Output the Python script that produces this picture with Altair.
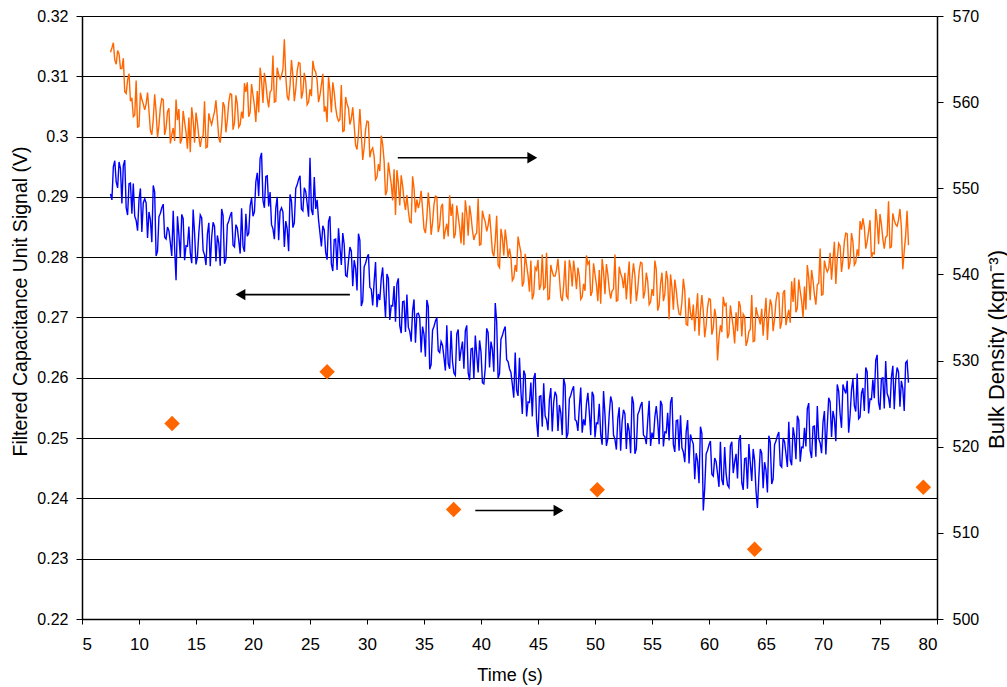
import altair as alt
import pandas as pd

# ---- data ----
# Samples every 0.25 s from 7.5 s, plus in-between samples every 0.25 s from 7.625 s
T_START = 7.5
T_MID_START = 7.625
T_STEP = 0.25

# Orange trace, bulk density (kg/m3), right axis
orange_density = [
    565.8, 566.9, 564.4, 565.6,
    563.9, 561.2, 562.6, 560.1,
    558.3, 562.5, 557.2, 560.3,
    559.1, 561.1, 556.7, 558.0,
    558.9, 557.3, 560.4, 556.2,
    558.9, 555.2, 557.0, 560.3,
    559.2, 555.7, 557.7, 554.6,
    554.2, 557.9, 558.8, 555.9,
    555.9, 560.1, 554.8, 557.9,
    558.2, 560.2, 555.8, 557.1,
    559.5, 557.9, 561.0, 556.8,
    560.8, 557.1, 558.9, 562.2,
    562.3, 558.8, 560.8, 557.7,
    558.8, 562.5, 563.4, 560.5,
    561.2, 565.4, 560.1, 563.2,
    563.1, 567.3, 560.7, 562.0,
    563.1, 561.5, 564.6, 560.4,
    563.4, 559.7, 561.5, 564.8,
    563.5, 560.0, 562.0, 558.9,
    557.7, 561.4, 562.3, 559.4,
    557.8, 562.0, 556.7, 559.8,
    557.4, 559.4, 555.0, 556.3,
    556.3, 554.7, 557.8, 553.6,
    554.7, 551.0, 552.8, 556.1,
    553.2, 549.7, 551.7, 548.6,
    546.9, 550.6, 551.5, 548.6,
    549.2, 546.1, 551.4, 547.2,
    547.7, 549.7, 545.3, 546.6,
    547.6, 546.0, 549.1, 544.9,
    547.8, 544.1, 545.9, 549.2,
    548.2, 544.7, 546.7, 543.6,
    543.4, 547.1, 548.0, 545.1,
    544.6, 548.8, 543.5, 546.6,
    545.0, 547.0, 542.6, 543.9,
    541.1, 545.3, 542.2, 543.8,
    543.0, 539.3, 541.1, 544.4,
    542.6, 539.1, 541.1, 538.0,
    537.1, 540.8, 541.7, 538.8,
    538.3, 542.5, 537.2, 540.3,
    539.8, 541.8, 537.4, 538.7,
    537.5, 541.7, 538.6, 540.2,
    540.8, 537.1, 538.9, 542.2,
    541.5, 538.0, 540.0, 536.9,
    536.6, 540.3, 541.2, 538.3,
    538.1, 542.3, 537.0, 540.1,
    538.4, 537.1, 541.5, 539.5,
    539.9, 538.3, 541.4, 537.2,
    540.2, 536.5, 538.3, 541.6,
    535.8, 538.9, 536.9, 540.4,
    534.8, 538.5, 539.4, 536.5,
    535.3, 539.5, 534.2, 537.3,
    534.7, 533.4, 537.8, 535.8,
    535.7, 534.1, 537.2, 533.0,
    536.0, 530.0, 534.1, 537.4,
    536.6, 533.1, 535.1, 532.0,
    533.4, 536.3, 535.4, 531.7,
    533.4, 537.6, 532.3, 535.4,
    534.2, 532.9, 537.3, 535.3,
    536.4, 534.8, 537.9, 533.7,
    537.8, 534.1, 535.9, 539.2,
    539.6, 536.1, 538.1, 535.0,
    535.9, 539.6, 540.5, 537.6,
    538.8, 543.0, 537.7, 540.8,
    540.7, 539.4, 543.8, 541.8,
    543.3, 541.7, 544.8, 540.6,
    544.8, 541.1, 542.9, 546.2,
    546.5, 543.0, 545.0, 541.9,
    542.4, 546.1, 547.0, 544.1,
    544.3, 548.5, 543.2, 546.3,
    545.6, 547.6, 540.6, 544.5,
    543.4,
]
orange_density_mid = [
    566.3, 564.9, 566.0, 563.9,
    565.1, 561.0, 563.3, 560.5,
    558.5, 557.1, 561.1, 559.8,
    559.8, 559.0, 556.2, 560.9,
    555.9, 559.4, 560.3, 557.0,
    559.3, 556.2, 555.5, 557.9,
    555.2, 559.0, 556.5, 558.2,
    559.4, 555.3, 557.6, 554.8,
    556.1, 554.7, 558.7, 557.4,
    558.9, 558.1, 555.3, 560.0,
    556.5, 560.0, 560.9, 557.6,
    559.8, 557.4, 558.1, 561.2,
    558.3, 562.1, 559.6, 561.3,
    564.0, 559.9, 562.2, 559.4,
    561.4, 560.0, 564.0, 562.7,
    563.8, 563.0, 560.2, 564.9,
    560.1, 563.6, 564.5, 561.2,
    562.4, 560.0, 560.7, 563.8,
    562.5, 560.8, 563.3, 559.5,
    562.9, 558.8, 561.1, 558.3,
    558.0, 556.6, 560.6, 559.3,
    558.1, 557.3, 554.5, 559.2,
    553.3, 556.8, 557.7, 554.4,
    553.7, 551.3, 552.0, 555.1,
    549.2, 553.0, 550.5, 552.2,
    552.1, 548.0, 550.3, 547.5,
    547.4, 546.0, 550.0, 548.7,
    548.4, 547.6, 544.8, 549.5,
    544.6, 548.1, 549.0, 545.7,
    548.2, 545.1, 544.4, 546.8,
    544.2, 548.0, 545.5, 547.2,
    548.6, 544.5, 546.8, 544.0,
    544.8, 543.4, 547.4, 546.1,
    545.7, 544.9, 542.1, 546.8,
    540.8, 544.3, 545.2, 541.9,
    542.0, 539.6, 540.3, 543.4,
    538.6, 542.4, 539.9, 541.6,
    537.7, 540.5, 538.2, 542.3,
    538.5, 537.1, 541.1, 539.8,
    540.5, 539.7, 536.9, 541.6,
    537.2, 540.7, 541.6, 538.3,
    539.8, 537.4, 538.1, 541.2,
    537.5, 541.3, 538.8, 540.5,
    541.8, 537.7, 540.0, 537.2,
    538.3, 536.9, 540.9, 539.6,
    540.2, 539.4, 536.6, 541.3,
    536.9, 540.4, 541.3, 538.0,
    539.2, 536.8, 537.5, 540.6,
    536.4, 540.2, 537.7, 539.4,
    540.0, 535.9, 538.2, 535.4,
    536.8, 538.1, 534.1, 535.5,
    536.5, 535.7, 532.9, 537.6,
    532.7, 536.2, 537.1, 533.8,
    535.0, 532.6, 533.3, 536.4,
    532.6, 536.4, 533.9, 535.6,
    536.9, 532.8, 535.1, 532.3,
    533.6, 532.2, 536.2, 534.9,
    536.0, 535.2, 532.4, 537.1,
    533.4, 536.9, 537.8, 534.5,
    538.2, 535.1, 534.4, 536.8,
    535.6, 539.4, 536.9, 538.6,
    541.1, 537.0, 539.3, 536.5,
    539.0, 537.6, 541.6, 540.3,
    542.5, 541.7, 538.9, 543.6,
    540.3, 543.8, 544.7, 541.4,
    543.8, 541.4, 542.1, 545.2,
    545.5, 543.8, 546.3, 542.5,
    547.6, 543.5, 545.8, 543.0,
    544.5, 543.1, 547.1, 545.8,
    546.3, 545.5, 542.7, 547.4,
]

# Blue trace, filtered capacitance unit signal (V), left axis
blue_signal = [
    0.2905, 0.2950, 0.2925, 0.2958,
    0.2889, 0.2961, 0.2870, 0.2923,
    0.2922, 0.2861, 0.2895, 0.2842,
    0.2897, 0.2832, 0.2862, 0.2919,
    0.2802, 0.2867, 0.2882, 0.2833,
    0.2850, 0.2824, 0.2877, 0.2762,
    0.2837, 0.2871, 0.2795, 0.2818,
    0.2807, 0.2879, 0.2788, 0.2841,
    0.2865, 0.2804, 0.2838, 0.2785,
    0.2858, 0.2793, 0.2823, 0.2880,
    0.2789, 0.2854, 0.2869, 0.2820,
    0.2854, 0.2828, 0.2881, 0.2809,
    0.2835, 0.2885, 0.2868, 0.2925,
    0.2901, 0.2973, 0.2882, 0.2935,
    0.2908, 0.2847, 0.2881, 0.2828,
    0.2882, 0.2817, 0.2847, 0.2904,
    0.2849, 0.2914, 0.2929, 0.2880,
    0.2915, 0.2889, 0.2965, 0.2870,
    0.2880, 0.2862, 0.2818, 0.2845,
    0.2796, 0.2868, 0.2777, 0.2830,
    0.2848, 0.2787, 0.2821, 0.2768,
    0.2817, 0.2752, 0.2782, 0.2839,
    0.2719, 0.2784, 0.2799, 0.2750,
    0.2720, 0.2792, 0.2739, 0.2765,
    0.2738, 0.2772, 0.2696, 0.2719,
    0.2693, 0.2765, 0.2674, 0.2727,
    0.2738, 0.2677, 0.2711, 0.2658,
    0.2707, 0.2642, 0.2672, 0.2729,
    0.2614, 0.2679, 0.2694, 0.2645,
    0.2660, 0.2634, 0.2687, 0.2615,
    0.2627, 0.2604, 0.2680, 0.2646,
    0.2615, 0.2687, 0.2596, 0.2649,
    0.2670, 0.2609, 0.2643, 0.2590,
    0.2682, 0.2617, 0.2647, 0.2724,
    0.2599, 0.2664, 0.2679, 0.2630,
    0.2615, 0.2589, 0.2642, 0.2570,
    0.2578, 0.2612, 0.2536, 0.2559,
    0.2536, 0.2608, 0.2502, 0.2570,
    0.2591, 0.2530, 0.2564, 0.2511,
    0.2577, 0.2512, 0.2542, 0.2599,
    0.2500, 0.2565, 0.2580, 0.2531,
    0.2512, 0.2584, 0.2531, 0.2557,
    0.2543, 0.2577, 0.2501, 0.2524,
    0.2506, 0.2578, 0.2487, 0.2540,
    0.2559, 0.2498, 0.2532, 0.2479,
    0.2547, 0.2482, 0.2512, 0.2569,
    0.2474, 0.2539, 0.2554, 0.2505,
    0.2490, 0.2562, 0.2509, 0.2535,
    0.2528, 0.2562, 0.2486, 0.2509,
    0.2496, 0.2568, 0.2477, 0.2530,
    0.2538, 0.2477, 0.2511, 0.2458,
    0.2497, 0.2432, 0.2462, 0.2519,
    0.2380, 0.2474, 0.2489, 0.2440,
    0.2467, 0.2441, 0.2494, 0.2422,
    0.2441, 0.2418, 0.2494, 0.2460,
    0.2433, 0.2505, 0.2414, 0.2467,
    0.2490, 0.2429, 0.2463, 0.2384,
    0.2482, 0.2417, 0.2447, 0.2504,
    0.2424, 0.2489, 0.2504, 0.2455,
    0.2500, 0.2474, 0.2527, 0.2455,
    0.2503, 0.2537, 0.2461, 0.2484,
    0.2486, 0.2558, 0.2467, 0.2520,
    0.2553, 0.2492, 0.2526, 0.2473,
    0.2567, 0.2502, 0.2532, 0.2589,
    0.2540, 0.2589, 0.2574, 0.2509,
    0.2580, 0.2554, 0.2607, 0.2535,
    0.2583, 0.2617, 0.2541, 0.2564,
    0.2566, 0.2638, 0.2547, 0.2600,
    0.2628, 0.2567, 0.2601, 0.2548,
    0.2617, 0.2552, 0.2582, 0.2625,
    0.2592,
]
blue_signal_mid = [
    0.2895, 0.2960, 0.2915, 0.2947,
    0.2952, 0.2882, 0.2922, 0.2872,
    0.2868, 0.2844, 0.2914, 0.2890,
    0.2890, 0.2875, 0.2825, 0.2908,
    0.2810, 0.2873, 0.2888, 0.2830,
    0.2844, 0.2802, 0.2814, 0.2868,
    0.2799, 0.2864, 0.2819, 0.2851,
    0.2790, 0.2840, 0.2800, 0.2870,
    0.2811, 0.2787, 0.2857, 0.2833,
    0.2851, 0.2836, 0.2786, 0.2869,
    0.2797, 0.2860, 0.2875, 0.2817,
    0.2848, 0.2806, 0.2818, 0.2872,
    0.2840, 0.2898, 0.2875, 0.2940,
    0.2964, 0.2894, 0.2934, 0.2884,
    0.2854, 0.2830, 0.2900, 0.2876,
    0.2875, 0.2860, 0.2810, 0.2893,
    0.2857, 0.2920, 0.2935, 0.2877,
    0.2909, 0.2867, 0.2879, 0.2933,
    0.2895, 0.2840, 0.2852, 0.2808,
    0.2859, 0.2789, 0.2829, 0.2779,
    0.2816, 0.2840, 0.2770, 0.2794,
    0.2810, 0.2795, 0.2745, 0.2828,
    0.2727, 0.2790, 0.2805, 0.2747,
    0.2759, 0.2717, 0.2729, 0.2783,
    0.2700, 0.2765, 0.2720, 0.2752,
    0.2756, 0.2686, 0.2726, 0.2676,
    0.2684, 0.2660, 0.2730, 0.2706,
    0.2700, 0.2685, 0.2635, 0.2718,
    0.2622, 0.2685, 0.2700, 0.2642,
    0.2654, 0.2612, 0.2624, 0.2678,
    0.2608, 0.2673, 0.2628, 0.2660,
    0.2678, 0.2608, 0.2648, 0.2598,
    0.2638, 0.2662, 0.2592, 0.2616,
    0.2675, 0.2660, 0.2610, 0.2693,
    0.2607, 0.2670, 0.2685, 0.2627,
    0.2609, 0.2567, 0.2579, 0.2633,
    0.2540, 0.2605, 0.2560, 0.2592,
    0.2599, 0.2529, 0.2569, 0.2519,
    0.2537, 0.2513, 0.2583, 0.2559,
    0.2570, 0.2555, 0.2505, 0.2588,
    0.2508, 0.2571, 0.2586, 0.2528,
    0.2551, 0.2509, 0.2521, 0.2575,
    0.2505, 0.2570, 0.2525, 0.2557,
    0.2489, 0.2539, 0.2499, 0.2569,
    0.2505, 0.2481, 0.2551, 0.2527,
    0.2540, 0.2525, 0.2475, 0.2558,
    0.2482, 0.2545, 0.2560, 0.2502,
    0.2529, 0.2487, 0.2499, 0.2553,
    0.2490, 0.2555, 0.2510, 0.2542,
    0.2559, 0.2489, 0.2529, 0.2479,
    0.2484, 0.2460, 0.2530, 0.2506,
    0.2490, 0.2475, 0.2425, 0.2508,
    0.2417, 0.2480, 0.2495, 0.2437,
    0.2461, 0.2419, 0.2431, 0.2485,
    0.2422, 0.2487, 0.2442, 0.2474,
    0.2496, 0.2426, 0.2466, 0.2416,
    0.2458, 0.2482, 0.2412, 0.2436,
    0.2475, 0.2460, 0.2410, 0.2493,
    0.2432, 0.2495, 0.2510, 0.2452,
    0.2494, 0.2452, 0.2464, 0.2518,
    0.2465, 0.2530, 0.2485, 0.2517,
    0.2549, 0.2479, 0.2519, 0.2469,
    0.2499, 0.2475, 0.2545, 0.2521,
    0.2560, 0.2545, 0.2495, 0.2578,
    0.2517, 0.2580, 0.2595, 0.2537,
    0.2598, 0.2544, 0.2532, 0.2574,
    0.2545, 0.2610, 0.2565, 0.2597,
    0.2629, 0.2559, 0.2599, 0.2549,
    0.2574, 0.2550, 0.2620, 0.2596,
    0.2610, 0.2595, 0.2545, 0.2628,
]

# Orange diamonds (bulk density, right axis)
diamond_time = [12.9, 26.5, 37.6, 50.2, 64.0, 78.8]
diamond_density = [522.7, 528.7, 512.7, 515.0, 508.1, 515.3]

# Arrows (in left-axis units)
arrow_start = [32.7, 28.5, 39.5]
arrow_end = [44.5, 18.9, 46.8]
arrow_level = [0.2965, 0.2738, 0.2380]
arrow_shape = ["triangle-right", "triangle-left", "triangle-right"]

x_ticks = [5, 10, 15, 20, 25, 30, 35, 40, 45, 50, 55, 60, 65, 70, 75, 80]
left_ticks = [0.22, 0.23, 0.24, 0.25, 0.26, 0.27, 0.28, 0.29, 0.30, 0.31, 0.32]
right_ticks = [500, 510, 520, 530, 540, 550, 560, 570]


# ---- tables ----
def series_table(main, mid, col):
    t_main = [T_START + T_STEP * i for i in range(len(main))]
    t_mid = [T_MID_START + T_STEP * i for i in range(len(mid))]
    df = pd.DataFrame({"t": t_main + t_mid, col: main + mid})
    return df.sort_values("t").reset_index(drop=True)


orange_df = series_table(orange_density, orange_density_mid, "r")
blue_df = series_table(blue_signal, blue_signal_mid, "v")
diamond_df = pd.DataFrame({"t": diamond_time, "r": diamond_density})
shaft_df = pd.DataFrame({"t": arrow_start, "t2": arrow_end, "v": arrow_level})
head_df = pd.DataFrame({"t": arrow_end, "v": arrow_level, "shape": arrow_shape})

FONT = "Liberation Sans"
W, H = 855, 603

x_enc = alt.X(
    "t:Q",
    scale=alt.Scale(domain=[5, 80], nice=False, zero=False),
    axis=alt.Axis(
        values=x_ticks, title="Time (s)", grid=False,
        domainColor="black", domainWidth=1.5, tickColor="black", tickWidth=1,
        tickSize=5, labelFontSize=17, labelPadding=12, labelColor="black",
        labelFont=FONT, titleFont=FONT, titleFontSize=18,
        titleFontWeight="normal", titleColor="black",
        titleBaseline="alphabetic", titleY=61,
    ),
)

left_scale = alt.Scale(domain=[0.22, 0.32], nice=False, zero=False)
left_axis = alt.Axis(
    orient="left", values=left_ticks, format=".2~f",
    grid=True, gridColor="black", gridWidth=1, gridOpacity=1,
    domainColor="black", domainWidth=1.5, tickColor="black", tickSize=6,
    labelFontSize=16, labelPadding=8, labelColor="black", labelFont=FONT,
    title="Filtered Capacitance Unit Signal (V)", titleFont=FONT,
    titleFontSize=19.5, titleFontWeight="normal", titleColor="black",
    titleAngle=270, titleAlign="center", titleBaseline="middle",
    titleX=-62, titleY=285,
)
right_scale = alt.Scale(domain=[500, 570], nice=False, zero=False)
right_axis = alt.Axis(
    orient="right", values=right_ticks, grid=False,
    domainColor="black", domainWidth=1.5, tickColor="black", tickSize=6,
    labelFontSize=16, labelPadding=9, labelColor="black", labelFont=FONT,
    title="Bulk Density (kgm\u207b\u00b3)", titleFont=FONT,
    titleFontSize=22, titleFontWeight="normal", titleColor="black",
    titleAngle=270, titleAlign="center", titleBaseline="middle",
    titleX=59, titleY=333,
)

y_left = alt.Y("v:Q", scale=left_scale, axis=left_axis)
y_right = alt.Y("r:Q", scale=right_scale, axis=right_axis)

blue_line = alt.Chart(blue_df).mark_line(color="#0000FF", strokeWidth=1.4).encode(
    x=x_enc, y=y_left
)
arrow_shafts = alt.Chart(shaft_df).mark_rule(color="black", strokeWidth=1.6).encode(
    x=x_enc, x2="t2:Q", y=y_left
)
arrow_heads = alt.Chart(head_df).mark_point(
    filled=True, color="black", opacity=1, size=130
).encode(
    x=x_enc, y=y_left,
    shape=alt.Shape("shape:N", scale=None),
)

orange_line = alt.Chart(orange_df).mark_line(color="#FF6600", strokeWidth=1.4).encode(
    x=x_enc, y=y_right
)
diamonds = alt.Chart(diamond_df).mark_point(
    shape="diamond", filled=True, color="#FF6600", opacity=1, size=240
).encode(x=x_enc, y=y_right)

left_group = alt.layer(blue_line, arrow_shafts, arrow_heads)
right_group = alt.layer(orange_line, diamonds)

chart = alt.layer(left_group, right_group).resolve_scale(y="independent").properties(
    width=W, height=H,
    autosize=alt.AutoSizeParams(type="none"),
    padding={"left": 82, "top": 16, "right": 70, "bottom": 68},
    background="white",
).configure_view(stroke=None)

chart.save("out.html", embed_options={"renderer": "svg", "actions": False})
